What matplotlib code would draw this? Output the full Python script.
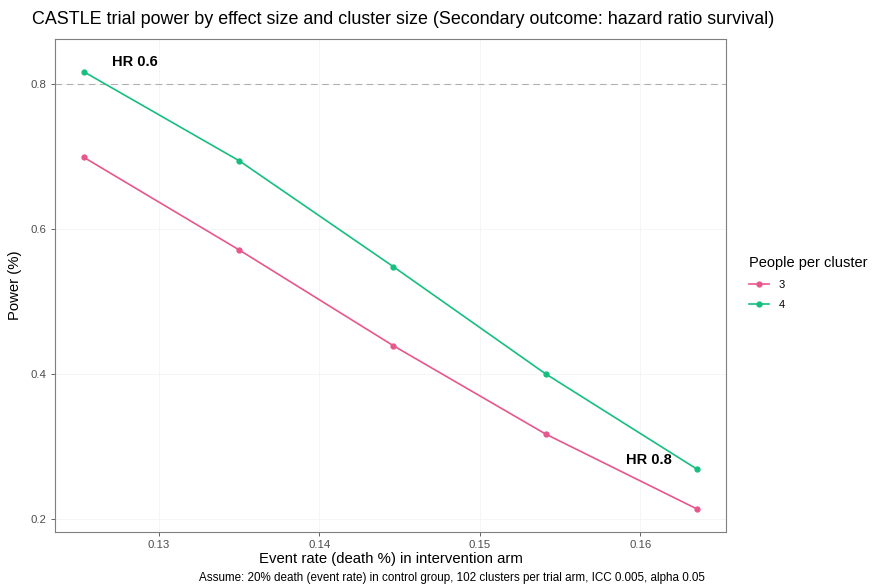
import matplotlib.pyplot as plt

plt.rcParams['font.family'] = ['Liberation Sans', 'DejaVu Sans']

# event rate in intervention arm for HR 0.6 .. 0.8 (control 20%)
event_rate = [0.1253, 0.1350, 0.1446, 0.1541, 0.1635]
power_3 = [0.699, 0.571, 0.439, 0.317, 0.214]
power_4 = [0.817, 0.694, 0.548, 0.400, 0.269]
groups = ['3', '4']
colors = ['#E8578C', '#16BF7F']

fig = plt.figure(figsize=(8.73, 5.87), dpi=100)
ax = fig.add_axes([55/873, 1-532/587, (726-55)/873, (532-39)/587])

ax.axhline(0.8, color='#b0b0b0', lw=0.8, ls=(0, (6, 4)), zorder=1)
for vals, g, c in zip([power_3, power_4], groups, colors):
    ax.plot(event_rate, vals, color=c, lw=1.2, marker='o', ms=3.5, label=g, zorder=3)

ax.text(0.1285, 0.830, 'HR 0.6', fontsize=10.5, fontweight='bold', ha='center', va='center')
ax.text(0.1605, 0.281, 'HR 0.8', fontsize=10.5, fontweight='bold', ha='center', va='center')

ax.set_xlim(0.12352, 0.16533)
ax.set_ylim(0.182, 0.862)
ax.set_xticks([0.13, 0.14, 0.15, 0.16])
ax.set_xticklabels(['0.13', '0.14', '0.15', '0.16'])
ax.set_yticks([0.2, 0.4, 0.6, 0.8])
ax.set_yticklabels(['0.2', '0.4', '0.6', '0.8'])
ax.tick_params(colors='#4d4d4d', labelsize=8.2, length=3, width=0.6)
ax.tick_params(axis='x', pad=2.5)
ax.grid(color='#f4f4f4', lw=0.6)
ax.set_axisbelow(True)
for s in ax.spines.values():
    s.set_color('#7f7f7f')
    s.set_linewidth(0.8)

ax.set_ylabel('Power (%)', fontsize=10.7, labelpad=6)
fig.text(391/873, 1-559/587, 'Event rate (death %) in intervention arm', fontsize=10.7,
         ha='center', va='center')

fig.text(32/873, 1-20/587, 'CASTLE trial power by effect size and cluster size (Secondary outcome: hazard ratio survival)',
         fontsize=12.9, ha='left', va='center')
fig.text(452/873, 1-578/587, 'Assume: 20% death (event rate) in control group, 102 clusters per trial arm, ICC 0.005, alpha 0.05',
         fontsize=8.4, ha='center', va='center')

leg = ax.legend(title='People per cluster', loc='upper left', bbox_to_anchor=(1.02, 0.58),
                frameon=False, fontsize=8, title_fontsize=10.5, handlelength=1.8,
                labelspacing=0.9)
leg._legend_box.align = 'left'

fig.savefig('out.png', dpi=100)
